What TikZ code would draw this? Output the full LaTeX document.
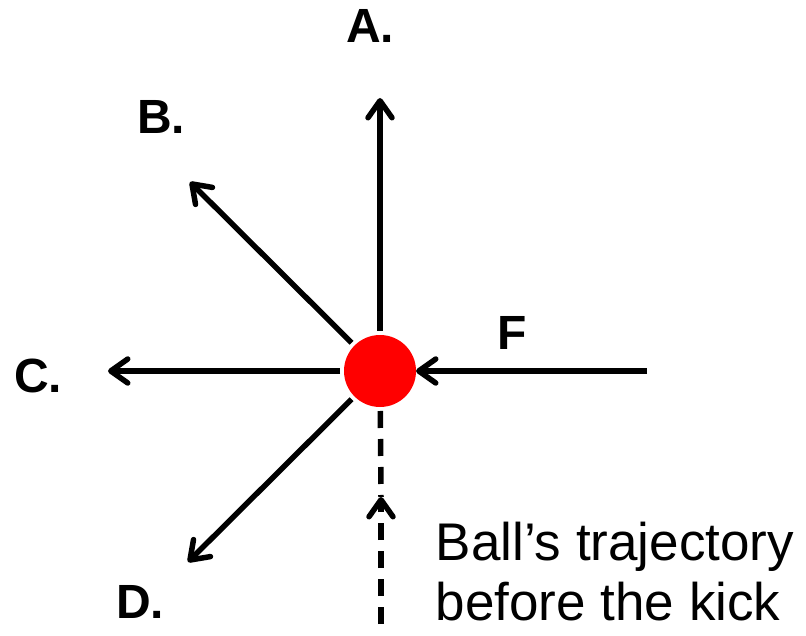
\documentclass[tikz,border=0pt]{standalone}
\usepackage{fontspec}
\setmainfont{Liberation Sans}
\usetikzlibrary{arrows.meta}

\begin{document}
\begin{tikzpicture}[
  x=1pt, y=-1pt,
  line width=5.5pt,
  >={Straight Barb[length=17pt, width=24pt, line cap=round, line join=round]},
  vec/.style={->, shorten <=4pt},
  ball/.style={circle, fill=red, minimum size=72pt, inner sep=0pt, outer sep=0pt},
  lbl/.style={font=\fontsize{48}{56}\selectfont\bfseries, inner sep=0pt},
  traj/.style={dash pattern=on 17pt off 11pt},
  note/.style={font=\fontsize{53}{60}\selectfont, align=left, inner sep=0pt},
]
\useasboundingbox (0,0) rectangle (806,636);
% ball and free ends
\node[ball] (ball) at (380,371) {};
\coordinate (tA) at (380,98);
\coordinate (tB) at (190,182);
\coordinate (tC) at (108,371);
\coordinate (tD) at (188,562);
\coordinate (fF) at (647,371);
\coordinate (tS) at (381,624);
\coordinate (tM) at (381,497);
% possible directions after the kick
\foreach \t in {tA,tB,tC,tD}{\draw[vec] (ball) -- (\t);}
% kick force
\draw[->] (fF) -- (ball);
% trajectory before the kick
\draw[traj, shorten <=4pt] (ball) -- (tM);
\draw[traj, ->] (tS) -- (tM);
% labels
\node[lbl] (lA) at (370,26) {A.};
\node[lbl] (lB) at (161,117) {B.};
\node[lbl] (lC) at (38,376) {C.};
\node[lbl] (lD) at (140,602) {D.};
\node[lbl] (lF) at (512,333) {F};
\node[note, anchor=base west] (lT) at (433,620) {Ball’s trajectory\\before the kick};
\end{tikzpicture}
\end{document}
